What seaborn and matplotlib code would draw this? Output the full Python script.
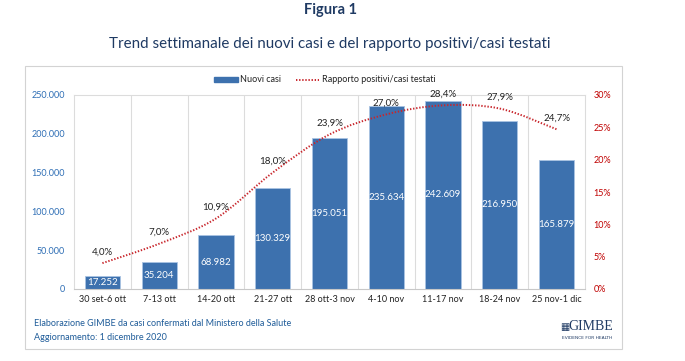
import numpy as np
import pandas as pd
import matplotlib
matplotlib.use("Agg")
import matplotlib.pyplot as plt
import seaborn as sns
from matplotlib.path import Path
from matplotlib.patches import PathPatch, Rectangle, Patch
from matplotlib.lines import Line2D

# ---- data ----
weeks = ["30 set-6 ott", "7-13 ott", "14-20 ott", "21-27 ott", "28 ott-3 nov",
         "4-10 nov", "11-17 nov", "18-24 nov", "25 nov-1 dic"]
nuovi_casi = [17252, 35204, 68982, 130329, 195051, 235634, 242609, 216950, 165879]
rapporto_pct = [4.0, 7.0, 10.9, 18.0, 23.9, 27.0, 28.4, 27.9, 24.7]
left_ticks = [0, 50000, 100000, 150000, 200000, 250000]
left_tick_labels = ["0", "50.000", "100.000", "150.000", "200.000", "250.000"]
right_ticks = [0, 5, 10, 15, 20, 25, 30]
right_tick_labels = ["0%", "5%", "10%", "15%", "20%", "25%", "30%"]

BAR = "#3d71ae"
RED = "#c8262c"
NAVY = "#1f3a63"
W, H = 685, 361

sns.set_theme(style="white")
plt.rcParams["font.family"] = ["Lato", "DejaVu Sans"]

fig = plt.figure(figsize=(W / 100, H / 100), dpi=100)
fig.patch.set_facecolor("white")

def fx(px):
    return px / W

def fy(py):
    return 1 - py / H

ax = fig.add_axes([fx(74), fy(289), (585 - 74) / W, (289 - 95) / H])
df = pd.DataFrame({"settimana": weeks, "casi": nuovi_casi})
sns.barplot(data=df, x="settimana", y="casi", color=BAR, saturation=1,
            width=0.62, ax=ax, edgecolor="#a9c3e3", linewidth=0.6, zorder=2)
ax.set_xlim(-0.5, len(weeks) - 0.5)
ax.set_ylim(0, 250000)
ax.set_xlabel("")
ax.set_ylabel("")
ax.set_yticks(left_ticks)
ax.set_yticklabels(left_tick_labels)
ax.tick_params(axis="y", colors="#2e6eb5", labelsize=6.5, length=0, pad=6.5)
ax.tick_params(axis="x", colors="#222222", labelsize=6.5, length=0, pad=4)
for lab in ax.get_yticklabels():
    lab.set_color("#2e6eb5")
for i in range(1, len(weeks)):
    ax.axvline(i - 0.5, color="#dcdcdc", lw=0.8, zorder=0)
for s in ax.spines.values():
    s.set_color("#dcdcdc")
    s.set_linewidth(0.8)
ax.spines["bottom"].set_color("#c8c8c8")

bar_labels = [f"{v:,}".replace(",", ".") for v in nuovi_casi]
ax.bar_label(ax.containers[0], labels=bar_labels, label_type="center",
             color="white", fontsize=7)

ax2 = ax.twinx()
ax2.set_ylim(0, 30)
ax2.set_yticks(right_ticks)
ax2.set_yticklabels(right_tick_labels)
ax2.tick_params(axis="y", colors="#c00000", labelsize=6.5, length=0, pad=6)
for s in ax2.spines.values():
    s.set_visible(False)
ax2.grid(False)

# smoothed line (Bezier segments through the data points)
xs = np.arange(len(rapporto_pct), dtype=float)
ys = np.array(rapporto_pct, dtype=float)
pts = np.column_stack([xs, ys])
verts = [tuple(pts[0])]
codes = [Path.MOVETO]
n = len(pts)
for i in range(n - 1):
    p0 = pts[max(i - 1, 0)]
    p1 = pts[i]
    p2 = pts[i + 1]
    p3 = pts[min(i + 2, n - 1)]
    c1 = p1 + (p2 - p0) / 6.0
    c2 = p2 - (p3 - p1) / 6.0
    verts += [tuple(c1), tuple(c2), tuple(p2)]
    codes += [Path.CURVE4, Path.CURVE4, Path.CURVE4]
ax2.add_patch(PathPatch(Path(verts, codes), fill=False, edgecolor=RED,
                        lw=1.4, linestyle=(0, (0.7, 0.9)), zorder=3))
for i, v in enumerate(rapporto_pct):
    ax2.annotate(f"{v:.1f}%".replace(".", ","), (i, v), xytext=(0, 8),
                 textcoords="offset points", ha="center", va="center",
                 fontsize=7, color="#222222", annotation_clip=False)

# legend
handles = [Patch(facecolor=BAR, edgecolor=BAR),
           Line2D([], [], color=RED, lw=1.4, linestyle=(0, (0.7, 0.9)))]
fig.legend(handles, ["Nuovi casi", "Rapporto positivi/casi testati"],
           loc="center", bbox_to_anchor=(fx(325), fy(80)), ncol=2,
           frameon=False, fontsize=6.5, handlelength=2.6, handleheight=0.55,
           handletextpad=0.3, columnspacing=1.6, labelcolor="#222222")

# titles
fig.text(fx(331), fy(10), "Figura 1", ha="center", va="center",
         fontsize=10.5, fontweight="bold", color=NAVY)
fig.text(fx(330), fy(44), "Trend settimanale dei nuovi casi e del rapporto positivi/casi testati",
         ha="center", va="center", fontsize=10.9, color=NAVY)

# footer
fig.text(fx(34), fy(324), "Elaborazione GIMBE da casi confermati dal Ministero della Salute",
         ha="left", va="center", fontsize=6.5, color="#1f5c99")
fig.text(fx(34), fy(337), "Aggiornamento: 1 dicembre 2020",
         ha="left", va="center", fontsize=6.5, color="#1f5c99")

# logo
fig.text(fx(560), fy(327), "\u25A6", ha="left", va="center", fontsize=7,
         color="#1f3a63", family="DejaVu Sans")
fig.text(fx(568), fy(327), "GIMBE", ha="left", va="center", fontsize=10,
         color="#1f3a63", family="Liberation Serif")
fig.text(fx(587), fy(338), "EVIDENCE FOR HEALTH", ha="center", va="center",
         fontsize=3.2, color="#1f3a63", family="DejaVu Sans")

# card border
fig.patches.append(Rectangle((fx(25), fy(349)), (622 - 25) / W, (349 - 66) / H,
                             transform=fig.transFigure, fill=False,
                             edgecolor="#d3d3d3", lw=0.8))

fig.savefig("out.png", dpi=100, facecolor="white")
